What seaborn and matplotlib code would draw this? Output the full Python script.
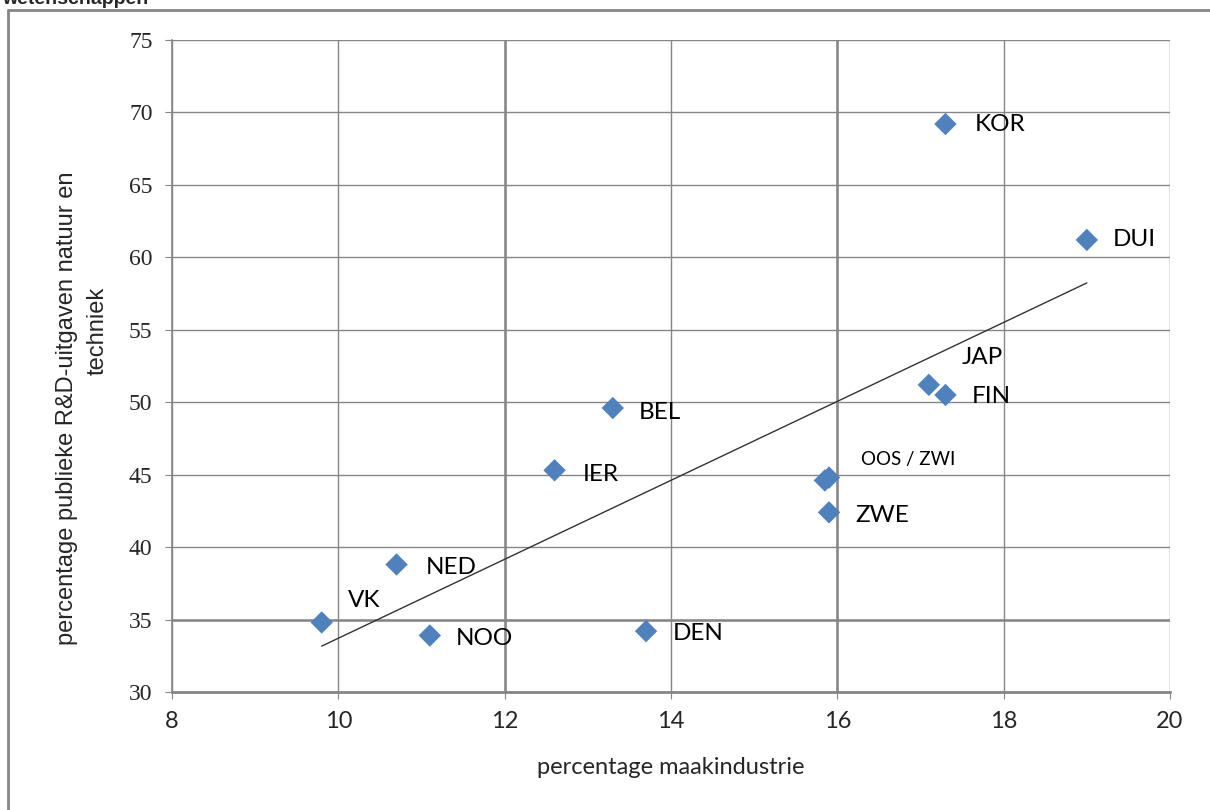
import numpy as np
import pandas as pd
import matplotlib
matplotlib.use("Agg")
import matplotlib.pyplot as plt
import seaborn as sns

# Data
countries = ["KOR", "DUI", "JAP", "FIN", "BEL", "IER", "OOS", "ZWI",
             "ZWE", "NED", "VK", "NOO", "DEN"]
maakindustrie = [17.3, 19.0, 17.1, 17.3, 13.3, 12.6, 15.85, 15.9,
                 15.9, 10.7, 9.8, 11.1, 13.7]
rd_natuur_techniek = [69.2, 61.2, 51.2, 50.5, 49.6, 45.3, 44.6, 44.8,
                      42.4, 38.8, 34.8, 33.9, 34.2]

# Labels shown on the chart (OOS and ZWI share one label)
label_text = {"KOR": "KOR", "DUI": "DUI", "JAP": "JAP", "FIN": "FIN",
              "BEL": "BEL", "IER": "IER", "OOS": "OOS / ZWI", "ZWE": "ZWE",
              "NED": "NED", "VK": "VK", "NOO": "NOO", "DEN": "DEN"}
# label offsets in points
label_offset = {"KOR": (21, 0), "DUI": (19, 0), "JAP": (24, 20), "FIN": (19, -1),
                "BEL": (19, -3), "IER": (20, -3), "OOS": (26, 15), "ZWE": (19, -2),
                "NED": (21, -2), "VK": (19, 16), "NOO": (19, -2), "DEN": (19, -2)}

df = pd.DataFrame({"land": countries, "x": maakindustrie, "y": rd_natuur_techniek})

sns.set_style("white")
label_font = ["Lato", "DejaVu Sans"]

fig = plt.figure(figsize=(12.1, 8.1), dpi=100)
ax = fig.add_axes([172 / 1210, 118 / 810, 998 / 1210, 652 / 810])

grid_col = "#868686"
ax.set_xlim(8, 20)
ax.set_ylim(30, 75)
ax.set_xticks(np.arange(8, 21, 2))
ax.set_yticks(np.arange(30, 76, 5))
ax.grid(True, color=grid_col, linewidth=1.0)
for xv in [12, 16]:
    ax.axvline(xv, color=grid_col, linewidth=1.8, zorder=0.5)
ax.axhline(35, color=grid_col, linewidth=1.8, zorder=0.5)
ax.set_axisbelow(True)

# trend line (linear fit over the data)
slope, intercept = np.polyfit(df["x"], df["y"], 1)
xs = np.array([df["x"].min(), df["x"].max()])
ax.plot(xs, slope * xs + intercept, color="#333333", linewidth=1.0, zorder=2)

sns.scatterplot(data=df, x="x", y="y", marker="D", s=130, color="#4F81BD",
                edgecolor="none", ax=ax, zorder=3, legend=False)

for land, xv, yv in zip(countries, maakindustrie, rd_natuur_techniek):
    if land not in label_text:
        continue
    size = 13.5 if land == "OOS" else 17.5
    ax.annotate(label_text[land], (xv, yv), xytext=label_offset[land],
                textcoords="offset points", ha="left", va="center",
                fontsize=size, family=label_font, color="black")

for side in ["top", "right"]:
    ax.spines[side].set_visible(False)
ax.spines["left"].set_color(grid_col)
ax.spines["left"].set_linewidth(1.2)
ax.spines["bottom"].set_color(grid_col)
ax.spines["bottom"].set_linewidth(2.0)
ax.tick_params(axis="both", length=5, color=grid_col, direction="out",
               left=True, bottom=True, labelsize=17, pad=9)
for lab in ax.get_xticklabels():
    lab.set_family(["Liberation Sans Narrow", "Lato", "DejaVu Sans"])
for lab in ax.get_yticklabels():
    lab.set_family(["Liberation Serif", "DejaVu Serif"])

ax.set_xlabel("percentage maakindustrie", fontsize=17, family=label_font, labelpad=18)
ax.set_ylabel("")
fig.text(67 / 1210, 1 - 408 / 810, "percentage publieke R&D-uitgaven natuur en",
         rotation=90, ha="center", va="center", fontsize=17,
         family=["Liberation Sans", "DejaVu Sans"])
fig.text(98 / 1210, 1 - 331 / 810, "techniek", rotation=90, ha="center",
         va="center", fontsize=17, family=["Liberation Sans", "DejaVu Sans"])

# outer chart frame and clipped title
fig.add_artist(plt.Line2D([8 / 1210, 1], [1 - 10 / 810] * 2, color=grid_col,
                          linewidth=2, transform=fig.transFigure))
fig.add_artist(plt.Line2D([8 / 1210] * 2, [0, 1 - 10 / 810], color=grid_col,
                          linewidth=2, transform=fig.transFigure))
fig.text(2 / 1210, 1 - 4 / 810, "wetenschappen", fontsize=14, fontweight="bold",
         family=["Liberation Sans", "DejaVu Sans"], va="baseline", ha="left")

fig.savefig("out.png", dpi=100)
